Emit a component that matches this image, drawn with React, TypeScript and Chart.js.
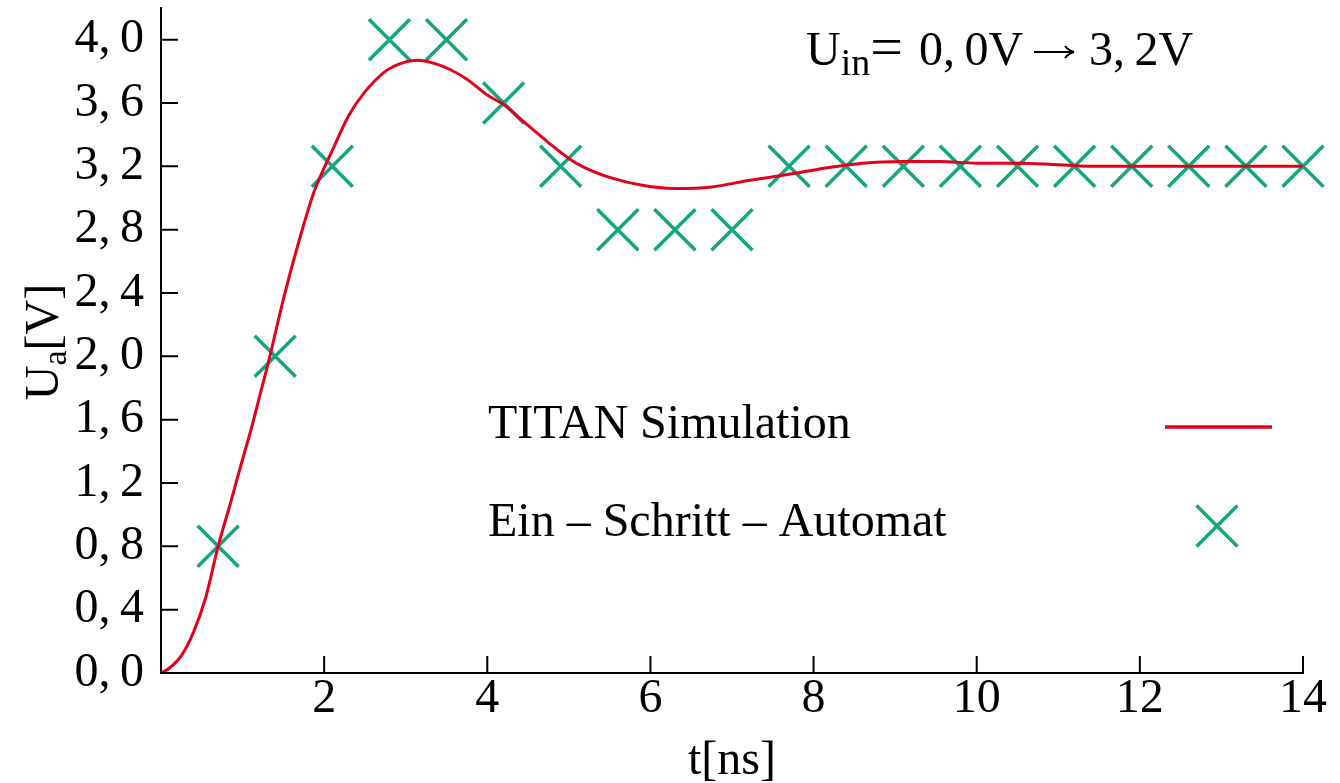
import React, { useEffect, useRef } from 'react';
import { Chart, registerables } from 'chart.js';

Chart.register(...registerables);

const FONT = '"Liberation Serif", "Times New Roman", serif';
const RED = '#e3001b';
const GREEN = '#14a67e';

// TITAN simulation curve (t in ns, U in V)
const simT = [0, 0.1, 0.25, 0.4, 0.55, 0.7, 0.85, 1.0, 1.1, 1.2, 1.32, 1.5, 1.66, 1.87, 2.0, 2.1, 2.3, 2.5, 2.75, 3.0, 3.15, 3.35, 3.55, 3.75, 4.0, 4.2, 4.45, 4.75, 5.0, 5.2, 5.5, 5.9, 6.3, 6.75, 7.2, 7.7, 8.15, 8.6, 9.1, 9.55, 10.0, 10.5, 11.0, 11.5, 12.0, 13.0, 14.0];
const simU = [0, 0.03, 0.11, 0.26, 0.48, 0.8, 1.07, 1.35, 1.53, 1.73, 1.97, 2.36, 2.67, 3.03, 3.19, 3.3, 3.52, 3.67, 3.8, 3.86, 3.87, 3.85, 3.81, 3.75, 3.65, 3.59, 3.48, 3.35, 3.25, 3.19, 3.13, 3.08, 3.06, 3.07, 3.11, 3.15, 3.19, 3.22, 3.23, 3.23, 3.22, 3.22, 3.21, 3.2, 3.2, 3.2, 3.2];

// Ein-Schritt-Automat samples
const stepT = [0.7, 1.4, 2.1, 2.8, 3.5, 4.2, 4.9, 5.6, 6.3, 7.0, 7.7, 8.4, 9.1, 9.8, 10.5, 11.2, 11.9, 12.6, 13.3, 14.0];
const stepU = [0.8, 2.0, 3.2, 4.0, 4.0, 3.6, 3.2, 2.8, 2.8, 2.8, 3.2, 3.2, 3.2, 3.2, 3.2, 3.2, 3.2, 3.2, 3.2, 3.2];

const xTicks = [2, 4, 6, 8, 10, 12, 14];
const yTicks = [0, 0.4, 0.8, 1.2, 1.6, 2.0, 2.4, 2.8, 3.2, 3.6, 4.0];

const simLabel = 'TITAN Simulation';
const stepLabel = 'Ein – Schritt – Automat';
const xTitle = 't[ns]';

const fmtY = (v: number) => v.toFixed(1).replace('.', ',\u2009');

const decorPlugin = {
  id: 'decor',
  afterDraw(chart: any) {
    const ctx = chart.ctx as CanvasRenderingContext2D;
    const xs = chart.scales.x;
    const ys = chart.scales.y;
    const area = chart.chartArea;
    ctx.save();
    // inward tick marks
    ctx.strokeStyle = '#000';
    ctx.lineWidth = 2;
    ctx.beginPath();
    xTicks.forEach((t) => {
      const px = xs.getPixelForValue(t);
      ctx.moveTo(px, area.bottom);
      ctx.lineTo(px, area.bottom - 17);
    });
    yTicks.forEach((v) => {
      const py = ys.getPixelForValue(v);
      ctx.moveTo(area.left, py);
      ctx.lineTo(area.left + 17, py);
    });
    ctx.stroke();

    ctx.fillStyle = '#000';
    ctx.textBaseline = 'alphabetic';
    ctx.textAlign = 'left';

    // y axis title U_a[V]
    ctx.save();
    ctx.translate(58, 342);
    ctx.rotate(-Math.PI / 2);
    ctx.font = `48px ${FONT}`;
    const wU = ctx.measureText('U').width;
    const wB = ctx.measureText('[V]').width;
    ctx.font = `34px ${FONT}`;
    const wa = ctx.measureText('a').width;
    const x0 = -(wU + wa + wB) / 2;
    ctx.font = `48px ${FONT}`;
    ctx.fillText('U', x0, 0);
    ctx.font = `34px ${FONT}`;
    ctx.fillText('a', x0 + wU, 8);
    ctx.font = `48px ${FONT}`;
    ctx.fillText('[V]', x0 + wU + wa, 0);
    ctx.restore();

    // annotation U_in = 0,0V -> 3,2V
    ctx.font = `48px ${FONT}`;
    ctx.fillText('U', 806, 65);
    const uW = ctx.measureText('U').width;
    ctx.font = `38px ${FONT}`;
    ctx.fillText('in', 806 + uW, 75);
    const inW = ctx.measureText('in').width;
    ctx.font = `58px ${FONT}`;
    ctx.fillText('=', 806 + uW + inW, 66);
    ctx.font = `48px ${FONT}`;
    ctx.fillText('0,\u20090V', 919, 65);
    ctx.fillText('3,\u20092V', 1089, 65);
    // arrow
    ctx.strokeStyle = '#000';
    ctx.lineWidth = 2;
    ctx.beginPath();
    ctx.moveTo(1034, 52);
    ctx.lineTo(1074, 52);
    ctx.moveTo(1074, 52);
    ctx.quadraticCurveTo(1068, 50, 1065, 46);
    ctx.moveTo(1074, 52);
    ctx.quadraticCurveTo(1068, 54, 1065, 58);
    ctx.stroke();

    // legend
    ctx.font = `48px ${FONT}`;
    ctx.fillText(simLabel, 488, 438);
    ctx.fillText(stepLabel, 488, 536);
    ctx.strokeStyle = RED;
    ctx.lineWidth = 3.3;
    ctx.beginPath();
    ctx.moveTo(1165, 427);
    ctx.lineTo(1272, 427);
    ctx.stroke();
    ctx.strokeStyle = GREEN;
    ctx.lineWidth = 3.5;
    const cx = 1217, cy = 526, h = 20.5;
    ctx.beginPath();
    ctx.moveTo(cx - h, cy - h);
    ctx.lineTo(cx + h, cy + h);
    ctx.moveTo(cx + h, cy - h);
    ctx.lineTo(cx - h, cy + h);
    ctx.stroke();
    ctx.restore();
  },
};

export default function App() {
  const ref = useRef<HTMLCanvasElement | null>(null);
  useEffect(() => {
    if (!ref.current) return;
    const chart = new Chart(ref.current, {
      type: 'line',
      data: {
        datasets: [
          {
            label: simLabel,
            data: simT.map((t, i) => ({ x: t, y: simU[i] })),
            borderColor: RED,
            borderWidth: 3,
            pointRadius: 0,
            cubicInterpolationMode: 'monotone',
            fill: false,
            clip: false as any,
          },
          {
            label: stepLabel,
            data: stepT.map((t, i) => ({ x: t, y: stepU[i] })),
            showLine: false,
            pointStyle: 'crossRot',
            pointRadius: 29,
            pointBorderWidth: 3.5,
            borderColor: GREEN,
            pointBorderColor: GREEN,
            backgroundColor: GREEN,
            clip: false as any,
          },
        ],
      },
      options: {
        animation: false,
        responsive: false,
        devicePixelRatio: 1,
        layout: { autoPadding: false, padding: { left: 0, right: 37, top: 8, bottom: 0 } },
        plugins: { legend: { display: false }, tooltip: { enabled: false } },
        events: [],
        scales: {
          x: {
            type: 'linear',
            min: 0,
            max: 14,
            grid: { display: false, drawTicks: false },
            border: { display: true, color: '#000', width: 2 },
            ticks: {
              color: '#000',
              font: { family: FONT, size: 48, lineHeight: 1 },
              padding: 2,
              maxRotation: 0,
              autoSkip: false,
            },
            afterBuildTicks: (scale: any) => {
              scale.ticks = xTicks.map((v) => ({ value: v }));
            },
            afterFit: (scale: any) => {
              scale.height = 110;
              scale.paddingLeft = 0;
              scale.paddingRight = 0;
            },
            title: {
              display: true,
              text: xTitle,
              color: '#000',
              font: { family: FONT, size: 48, lineHeight: 1.2 },
              padding: { top: 0, bottom: -7 },
            },
          },
          y: {
            type: 'linear',
            min: 0,
            max: 4.2,
            grid: { display: false, drawTicks: false },
            border: { display: true, color: '#000', width: 2 },
            ticks: {
              color: '#000',
              font: { family: FONT, size: 48, lineHeight: 0.1 },
              padding: 17,
              autoSkip: false,
              callback: (v: any) => fmtY(Number(v)),
            },
            afterBuildTicks: (scale: any) => {
              scale.ticks = yTicks.map((v) => ({ value: v }));
            },
            afterFit: (scale: any) => {
              scale.width = 161;
              scale.paddingTop = 0;
              scale.paddingBottom = 0;
            },
          },
        },
      },
      plugins: [decorPlugin],
    });
    return () => chart.destroy();
  }, []);
  return (
    <div style={{ position: 'fixed', left: 0, top: 0, width: 1340, height: 783, background: '#fff' }}>
      <canvas ref={ref} width={1340} height={783} style={{ width: 1340, height: 783, display: 'block' }} />
    </div>
  );
}
